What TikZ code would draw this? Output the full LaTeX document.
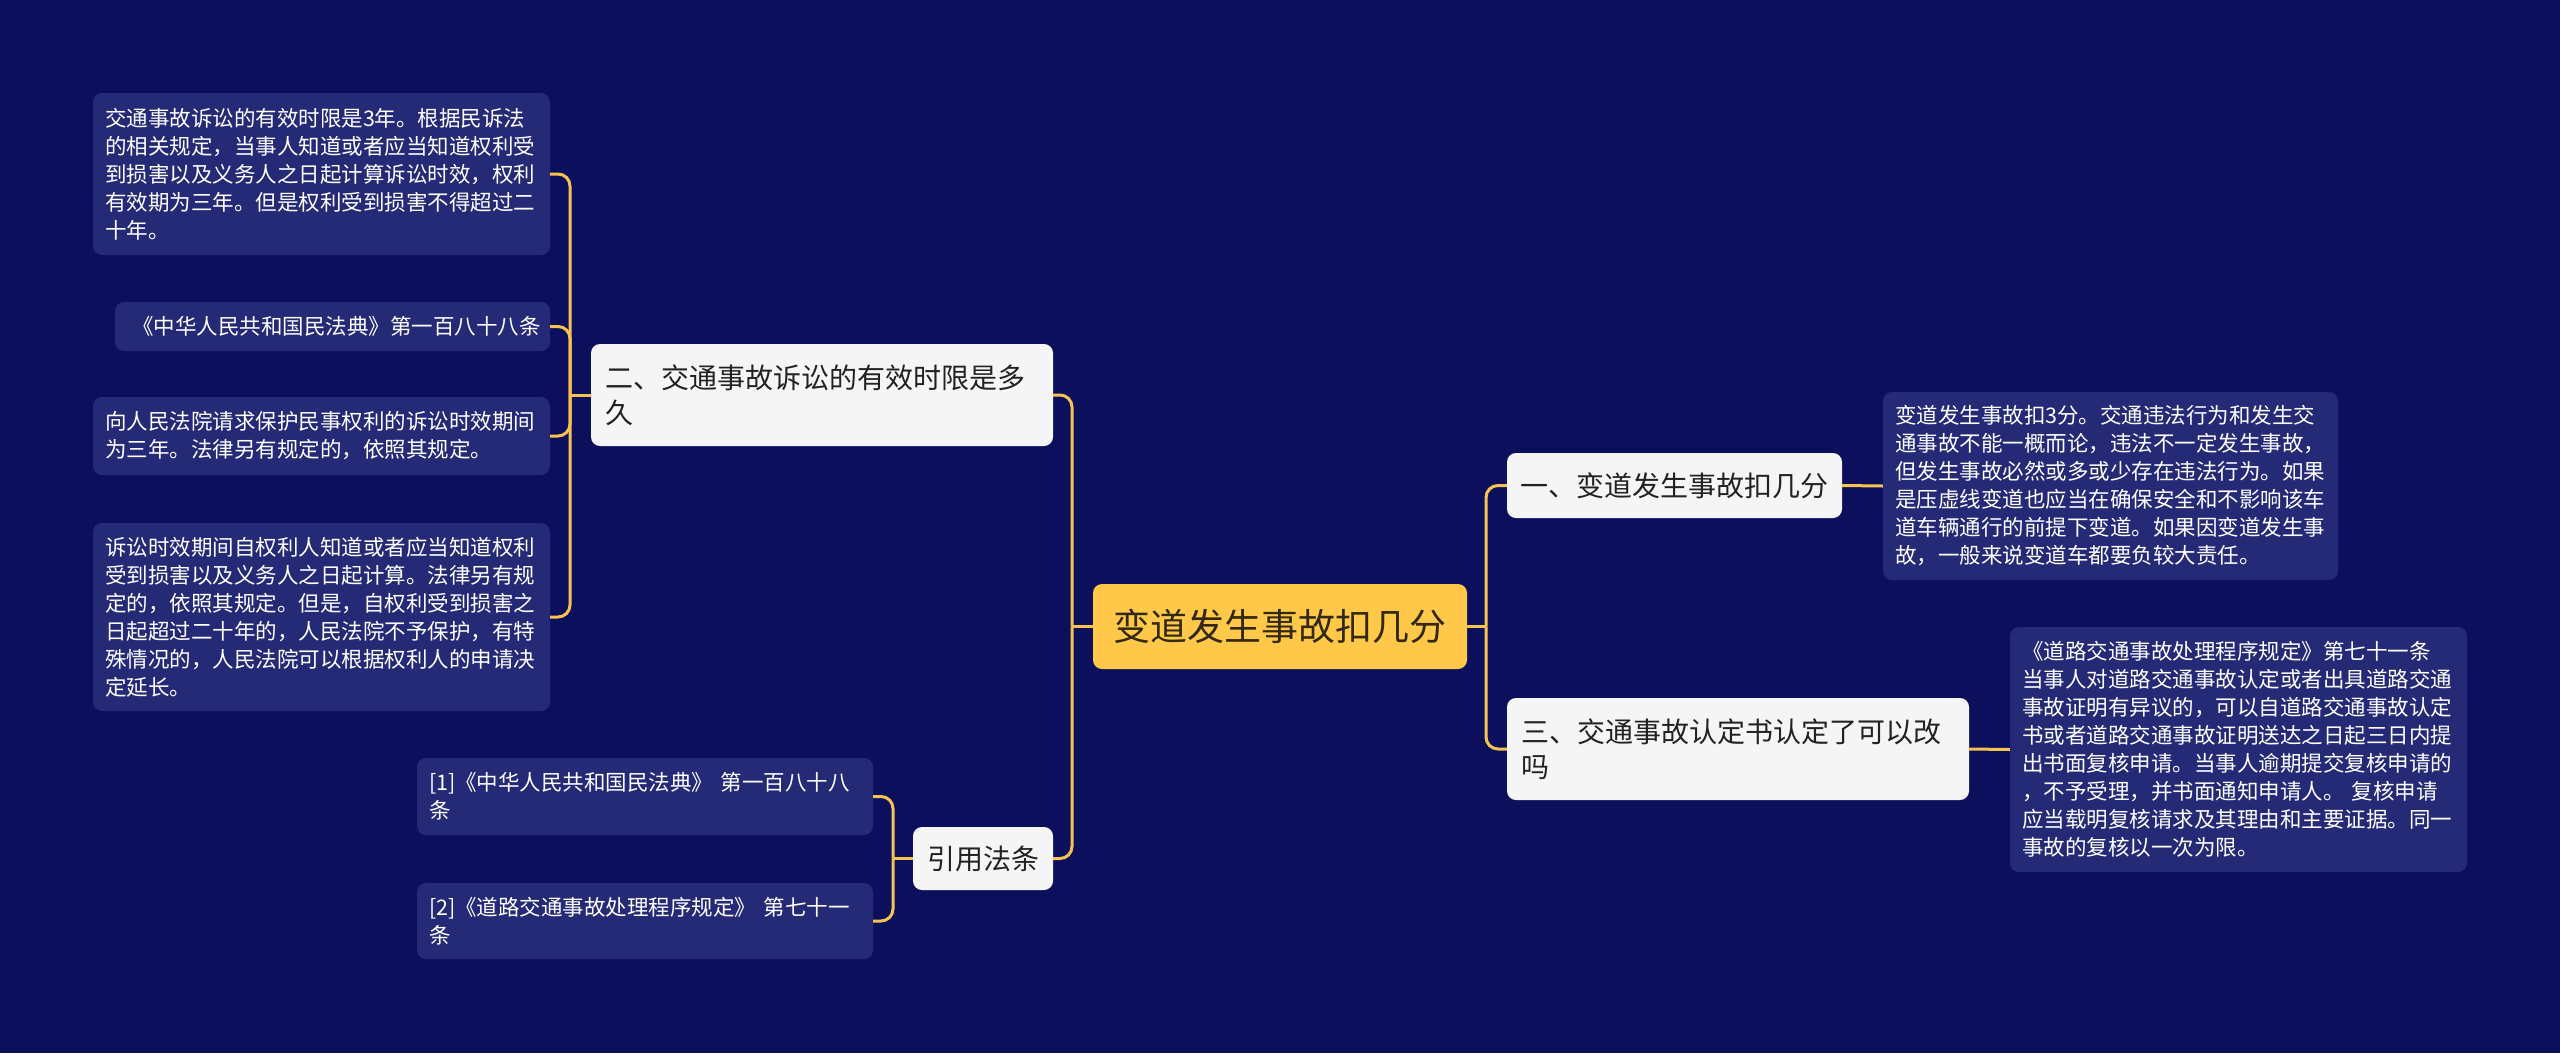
\documentclass[tikz,border=0pt]{standalone}
\usepackage{fontspec}
\newfontfamily\cjkfont{Noto Sans CJK SC}
\definecolor{bgcol}{RGB}{11,15,92}
\definecolor{leafbg}{RGB}{37,42,118}
\definecolor{topicbg}{RGB}{245,245,245}
\definecolor{topictext}{RGB}{34,34,34}
\definecolor{rootbg}{RGB}{255,200,72}
\definecolor{roottext}{RGB}{50,40,20}
\definecolor{conncol}{RGB}{245,196,80}
\begin{document}
\begin{tikzpicture}[x=1pt,y=-1pt,
  leaf/.style={fill=leafbg, rounded corners=9pt, text=white,
    font=\cjkfont\fontsize{21.5}{28}\selectfont, align=left,
    inner xsep=12pt, inner ysep=0pt},
  topic/.style={fill=topicbg, rounded corners=9pt, text=topictext,
    font=\cjkfont\fontsize{28}{35}\selectfont, align=left,
    inner xsep=14pt, inner ysep=0pt},
  rootbox/.style={fill=rootbg, rounded corners=9pt, text=roottext,
    font=\cjkfont\fontsize{37}{44}\selectfont, align=center,
    inner xsep=0pt, inner ysep=0pt},
  conn/.style={draw=conncol, line width=3pt},
  branch/.style={conn, rounded corners=12pt}]
\useasboundingbox[fill=bgcol] (0,0) rectangle (2560,1053);

% root
\node[rootbox, minimum width=374, minimum height=85] (root) at (1280,626.5) {变道发生事故扣几分};

% topics
\node[topic, text width=434, minimum height=102] (n2) at (822,395) {二、交通事故诉讼的有效时限是多\\久};
\node[topic, text width=112, minimum height=63] (cite) at (983,858.5) {引用法条};
\node[topic, inner xsep=13pt, text width=309, minimum height=65] (n1) at (1674.5,485.5) {一、变道发生事故扣几分};
\node[topic, text width=434, minimum height=102] (n3) at (1738,749) {三、交通事故认定书认定了可以改\\吗};

% left leaves
\node[leaf, text width=433, minimum height=162] (L1) at (321.5,174) {交通事故诉讼的有效时限是3年。根据民诉法\\的相关规定，当事人知道或者应当知道权利受\\到损害以及义务人之日起计算诉讼时效，权利\\有效期为三年。但是权利受到损害不得超过二\\十年。};
\node[leaf, inner xsep=17pt, text width=401, minimum height=49] (L2) at (332.5,326.5) {《中华人民共和国民法典》第一百八十八条};
\node[leaf, text width=433, minimum height=78] (L3) at (321.5,436) {向人民法院请求保护民事权利的诉讼时效期间\\为三年。法律另有规定的，依照其规定。};
\node[leaf, text width=433, minimum height=188] (L4) at (321.5,617) {诉讼时效期间自权利人知道或者应当知道权利\\受到损害以及义务人之日起计算。法律另有规\\定的，依照其规定。但是，自权利受到损害之\\日起超过二十年的，人民法院不予保护，有特\\殊情况的，人民法院可以根据权利人的申请决\\定延长。};

% citation leaves
\node[leaf, text width=432, minimum height=77] (R1) at (645,796.5) {[1]《中华人民共和国民法典》 第一百八十八\\条};
\node[leaf, text width=432, minimum height=76] (R2) at (645,921) {[2]《道路交通事故处理程序规定》 第七十一\\条};

% right leaves
\node[leaf, text width=431, minimum height=188] (RL1) at (2110.5,486) {变道发生事故扣3分。交通违法行为和发生交\\通事故不能一概而论，违法不一定发生事故，\\但发生事故必然或多或少存在违法行为。如果\\是压虚线变道也应当在确保安全和不影响该车\\道车辆通行的前提下变道。如果因变道发生事\\故，一般来说变道车都要负较大责任。};
\node[leaf, text width=433, minimum height=245] (RL2) at (2238.5,749.5) {《道路交通事故处理程序规定》第七十一条\\当事人对道路交通事故认定或者出具道路交通\\事故证明有异议的，可以自道路交通事故认定\\书或者道路交通事故证明送达之日起三日内提\\出书面复核申请。当事人逾期提交复核申请的\\，不予受理，并书面通知申请人。 复核申请\\应当载明复核请求及其理由和主要证据。同一\\事故的复核以一次为限。};

% junction coordinates
\coordinate (jL) at (1072,626.5);
\coordinate (jR) at (1486,626.5);
\coordinate (j2) at (570,395);
\coordinate (jc) at (893,858.5);

% connectors
\draw[conn] (root.west) -- (jL);
\draw[branch] (jL) |- (n2.east);
\draw[branch] (jL) |- (cite.east);
\draw[conn] (root.east) -- (jR);
\draw[branch] (jR) |- (n1.west);
\draw[branch] (jR) |- (n3.west);

\draw[conn] (n2.west) -- (j2);
\draw[branch] (j2) |- (L1.east);
\draw[branch] (j2) |- (L2.east);
\draw[branch] (j2) |- (L3.east);
\draw[branch] (j2) |- (L4.east);

\draw[conn] (cite.west) -- (jc);
\draw[branch] (jc) |- (R1.east);
\draw[branch] (jc) |- (R2.east);

\draw[conn] (n1.east) -- (RL1.west);
\draw[conn] (n3.east) -- (RL2.west);
\end{tikzpicture}
\end{document}
